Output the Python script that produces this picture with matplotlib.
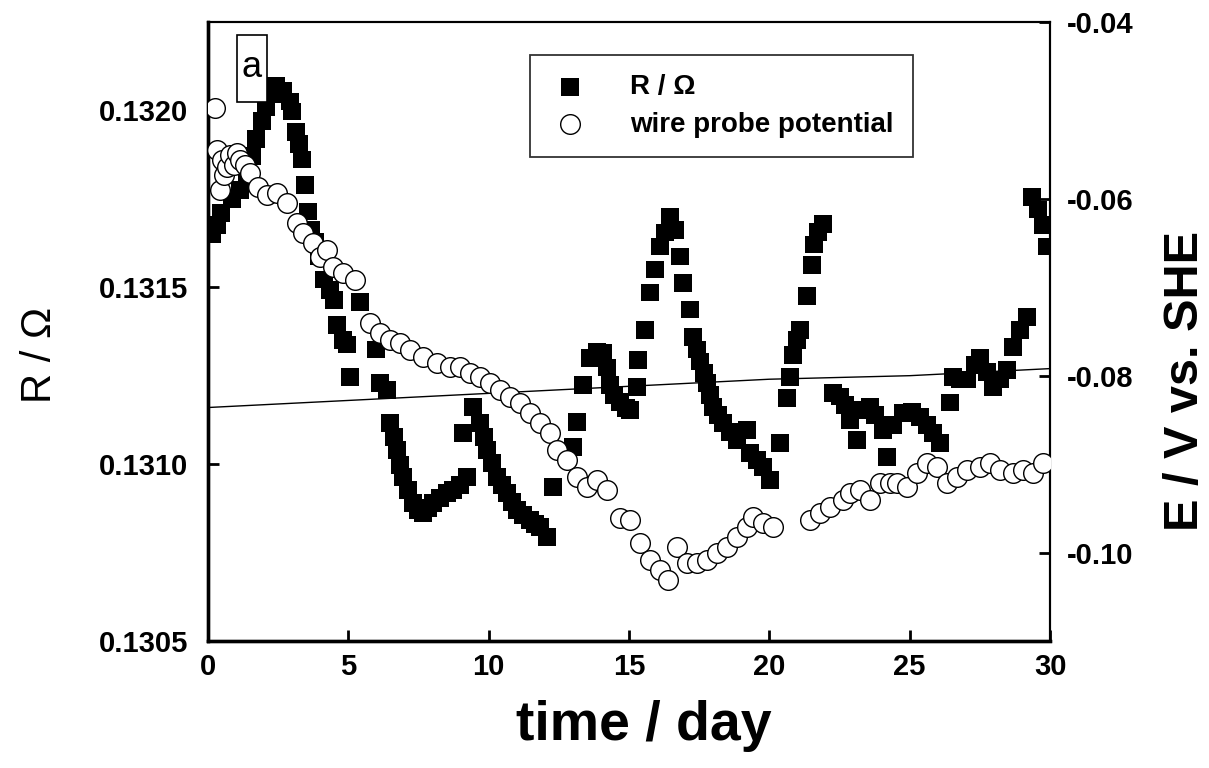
import numpy as np
import matplotlib
matplotlib.use("Agg")
import matplotlib.pyplot as plt
from matplotlib.patches import Rectangle
from matplotlib.ticker import FormatStrFormatter

plt.rcParams['font.family'] = ['Liberation Sans', 'DejaVu Sans']

# resistance (left axis)
r_day = [0.14, 0.32, 0.46, 0.86, 1.14, 1.39, 1.57, 1.71, 1.92, 2.07, 2.28, 2.42, 2.67, 2.92, 2.99,
         3.14, 3.24, 3.35, 3.46, 3.56, 3.67, 3.81, 3.95, 4.13, 4.35, 4.49, 4.60, 4.81, 4.95, 5.06,
         5.42, 5.99, 6.13, 6.38, 6.48, 6.63, 6.73, 6.84, 6.95, 7.13, 7.30, 7.48, 7.66, 7.84, 8.02,
         8.27, 8.51, 8.73, 8.98, 9.23, 9.08, 9.44, 9.69, 9.83, 9.94, 10.12, 10.30, 10.47, 10.65, 10.83,
         11.01, 11.22, 11.47, 11.65, 11.83, 12.08, 12.29, 13.00, 13.15, 13.36, 13.61, 13.86, 14.07, 14.21,
         14.32, 14.46, 14.68, 14.89, 15.03, 15.28, 15.32, 15.57, 15.75, 15.92, 16.10, 16.28, 16.46, 16.64,
         16.82, 16.92, 17.17, 17.28, 17.42, 17.53, 17.67, 17.78, 17.88, 17.99, 18.17, 18.35, 18.60, 18.85,
         19.20, 19.31, 19.56, 19.77, 20.02, 20.37, 20.63, 20.73, 20.84, 20.98, 21.09, 21.34, 21.52, 21.59,
         21.73, 21.91, 22.27, 22.52, 22.69, 22.87, 23.12, 23.30, 23.58, 23.76, 24.05, 24.19, 24.40, 24.76,
         25.08, 25.37, 25.61, 25.83, 26.08, 26.43, 26.54, 26.79, 27.04, 27.32, 27.50, 27.75, 27.97, 28.22,
         28.46, 28.68, 28.93, 29.18, 29.36, 29.57, 29.75, 29.89]
r_ohm = [0.131649, 0.131677, 0.131711, 0.131748, 0.131776, 0.131827, 0.131870, 0.131918, 0.131969,
         0.132008, 0.132045, 0.132068, 0.132054, 0.132025, 0.131997, 0.131938, 0.131904, 0.131861,
         0.131790, 0.131714, 0.131663, 0.131629, 0.131587, 0.131522, 0.131493, 0.131465, 0.131394,
         0.131352, 0.131338, 0.131247, 0.131459, 0.131324, 0.131230, 0.131210, 0.131117, 0.131077,
         0.131041, 0.130998, 0.130964, 0.130927, 0.130891, 0.130871, 0.130862, 0.130876, 0.130891,
         0.130905, 0.130919, 0.130927, 0.130941, 0.130964, 0.131089, 0.131162, 0.131117, 0.131077,
         0.131041, 0.131004, 0.130964, 0.130941, 0.130919, 0.130893, 0.130871, 0.130857, 0.130842,
         0.130831, 0.130823, 0.130794, 0.130936, 0.131049, 0.131120, 0.131224, 0.131301, 0.131318,
         0.131315, 0.131273, 0.131224, 0.131196, 0.131176, 0.131159, 0.131154, 0.131219, 0.131295,
         0.131380, 0.131485, 0.131550, 0.131615, 0.131655, 0.131700, 0.131663, 0.131587, 0.131513,
         0.131437, 0.131360, 0.131324, 0.131290, 0.131258, 0.131230, 0.131196, 0.131162, 0.131140,
         0.131117, 0.131091, 0.131069, 0.131097, 0.131032, 0.131012, 0.130992, 0.130956, 0.131060,
         0.131188, 0.131247, 0.131309, 0.131352, 0.131380, 0.131476, 0.131564, 0.131621, 0.131657,
         0.131680, 0.131202, 0.131191, 0.131168, 0.131125, 0.131069, 0.131154, 0.131162, 0.131140,
         0.131097, 0.131021, 0.131111, 0.131145, 0.131148, 0.131134, 0.131111, 0.131089, 0.131060,
         0.131174, 0.131247, 0.131239, 0.131239, 0.131281, 0.131301, 0.131261, 0.131219, 0.131239,
         0.131267, 0.131332, 0.131380, 0.131417, 0.131754, 0.131720, 0.131677, 0.131615]

# wire probe potential (right axis)
e_day = [0.25, 0.32, 0.43, 0.50, 0.57, 0.68, 0.78, 0.93, 1.03, 1.14, 1.32, 1.50, 1.78, 2.10, 2.46,
         2.81, 3.17, 3.38, 3.74, 3.99, 4.24, 4.45, 4.81, 5.24, 5.77, 6.13, 6.48, 6.84, 7.20, 7.66,
         8.16, 8.62, 8.98, 9.33, 9.69, 10.05, 10.40, 10.76, 11.12, 11.47, 11.83, 12.18, 12.43, 12.79,
         13.15, 13.50, 13.86, 14.21, 14.68, 15.03, 15.39, 15.75, 16.10, 16.39, 16.71, 17.06, 17.42,
         17.78, 18.13, 18.49, 18.85, 19.20, 19.42, 19.77, 20.13, 21.45, 21.80, 22.16, 22.62, 22.87,
         23.23, 23.58, 23.94, 24.30, 24.55, 24.90, 25.26, 25.61, 25.97, 26.33, 26.68, 27.04, 27.50,
         27.86, 28.22, 28.68, 29.03, 29.39, 29.75]
e_she = [-0.0497, -0.0545, -0.0590, -0.0556, -0.0573, -0.0564, -0.0550, -0.0562, -0.0548, -0.0556,
         -0.0562, -0.0571, -0.0587, -0.0596, -0.0593, -0.0605, -0.0627, -0.0639, -0.0650, -0.0666,
         -0.0658, -0.0677, -0.0684, -0.0692, -0.0740, -0.0752, -0.0760, -0.0763, -0.0771, -0.0779,
         -0.0786, -0.0790, -0.0790, -0.0797, -0.0801, -0.0808, -0.0816, -0.0824, -0.0831, -0.0842,
         -0.0853, -0.0865, -0.0884, -0.0895, -0.0915, -0.0926, -0.0918, -0.0929, -0.0961, -0.0963,
         -0.0989, -0.1008, -0.1020, -0.1031, -0.0994, -0.1012, -0.1012, -0.1008, -0.1000, -0.0994,
         -0.0982, -0.0971, -0.0960, -0.0967, -0.0971, -0.0963, -0.0955, -0.0948, -0.0941, -0.0933,
         -0.0929, -0.0941, -0.0921, -0.0921, -0.0921, -0.0926, -0.0910, -0.0899, -0.0903, -0.0921,
         -0.0915, -0.0907, -0.0903, -0.0899, -0.0907, -0.0910, -0.0907, -0.0910, -0.0899]

# thin reference line (left axis)
line_day = [0, 5, 10, 15, 20, 25, 30]
line_ohm = [0.13116, 0.13118, 0.13120, 0.13122, 0.13124, 0.13125, 0.13127]

fig = plt.figure(figsize=(12.09, 7.68), dpi=100)
ax = fig.add_axes([0.172, 0.1654, 0.6965, 0.806])
ax.plot(line_day, line_ohm, color='black', lw=1.0, zorder=1)
sq = ax.scatter(r_day, r_ohm, marker='s', s=165, color='black', edgecolors='none', zorder=2,
                label='R / \u03a9')
ax.set_xlim(0, 30)
ax.set_ylim(0.1305, 0.13225)
ax.set_xticks([0, 5, 10, 15, 20, 25, 30])
ax.set_yticks([0.1305, 0.1310, 0.1315, 0.1320])
ax.yaxis.set_major_formatter(FormatStrFormatter('%.4f'))

ax2 = ax.twinx()
ci = ax2.scatter(e_day, e_she, marker='o', s=200, facecolors='white', edgecolors='black',
                 linewidths=1.0, zorder=3, label='wire probe potential')
ax2.set_ylim(-0.11, -0.04)
ax2.set_yticks([-0.10, -0.08, -0.06, -0.04])
ax2.yaxis.set_major_formatter(FormatStrFormatter('%.2f'))

for a in (ax, ax2):
    a.tick_params(direction='in', length=8, width=2, labelsize=21)
    for lab in a.get_xticklabels() + a.get_yticklabels():
        lab.set_fontweight('bold')
    a.spines['left'].set_linewidth(2.4)
    a.spines['bottom'].set_linewidth(2.4)
    a.spines['top'].set_linewidth(1.5)
    a.spines['right'].set_linewidth(1.5)
ax.tick_params(axis='x', pad=9)
ax.tick_params(axis='y', pad=14)
ax2.tick_params(axis='y', pad=12)

ax.set_xlabel('time / day', fontsize=40, fontweight='bold')
ax.xaxis.set_label_coords(0.518, -0.095)
ax.set_ylabel('R / \u03a9', fontsize=30)
ax.yaxis.set_label_coords(-0.176, 0.462)
ax2.set_ylabel('E / V vs. SHE', fontsize=35, fontweight='bold')
ax2.yaxis.set_label_coords(1.134, 0.42)

leg = ax2.legend(handles=[sq, ci], loc='upper left', bbox_to_anchor=(0.3824, 0.9467),
                 fontsize=20, frameon=True, fancybox=False, edgecolor='black',
                 borderpad=0.7, handlelength=1.5, handletextpad=1.4, labelspacing=0.4,
                 scatterpoints=1, borderaxespad=0)
leg.get_frame().set_linewidth(1.3)
for t in leg.get_texts():
    t.set_fontweight('bold')

# panel label "a" in its tall box
ax2.add_patch(Rectangle((0.0344, 0.871), 0.0356, 0.108, transform=ax2.transAxes,
                        facecolor='white', edgecolor='black', lw=1.2, zorder=5))
ax2.text(0.0523, 0.926, 'a', transform=ax2.transAxes, fontsize=26, ha='center', va='center',
         zorder=6)

fig.savefig('out.png', dpi=100)
